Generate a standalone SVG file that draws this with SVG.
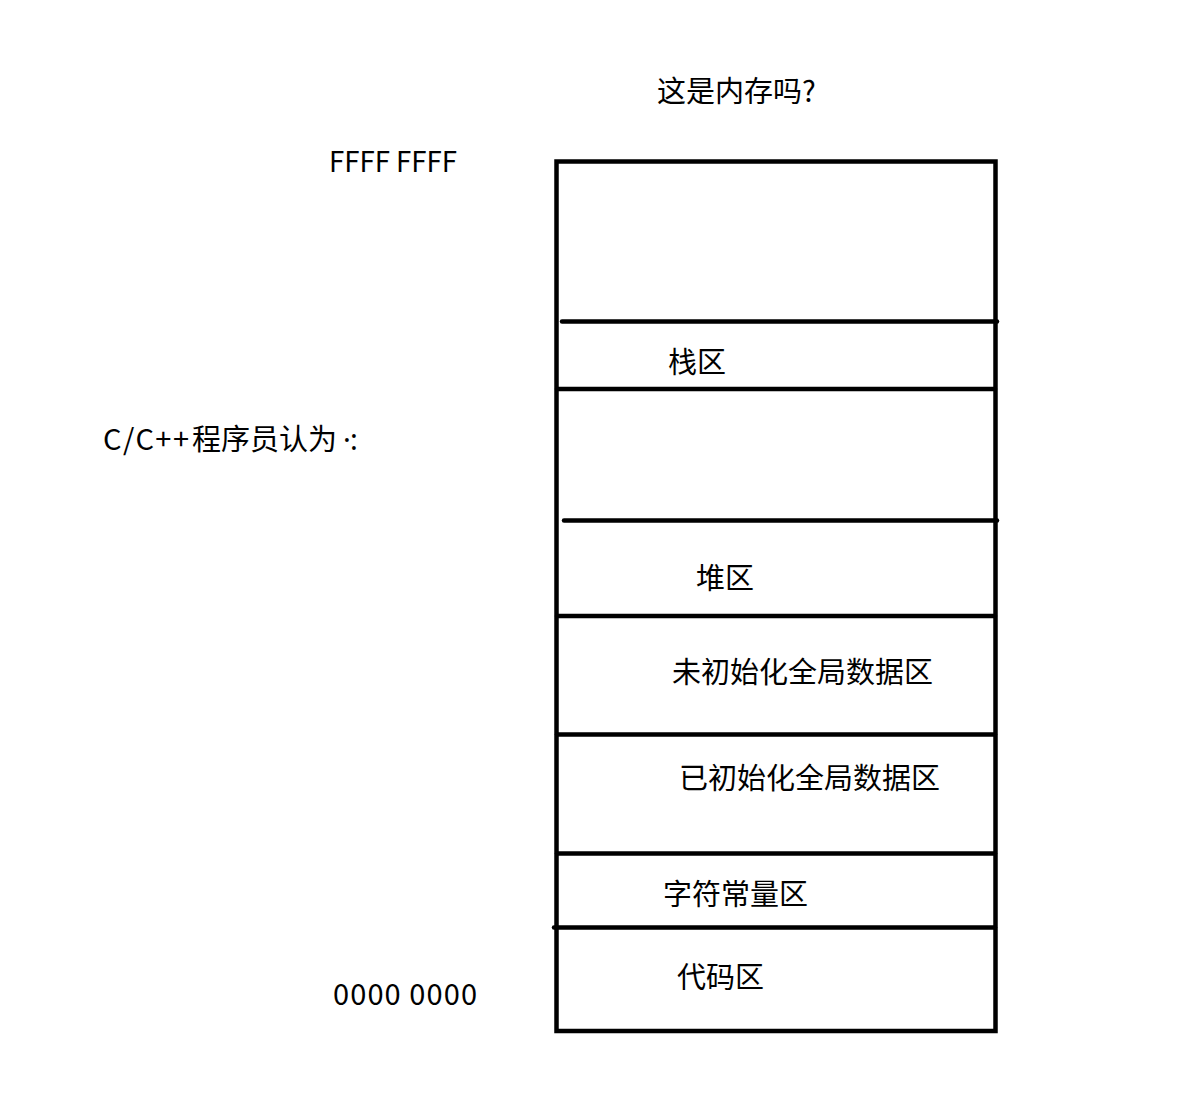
<svg xmlns="http://www.w3.org/2000/svg" width="1193" height="1099" viewBox="0 0 1193 1099">
<style>
.t{font-family:"Noto Sans CJK SC","Noto Sans",sans-serif;font-size:29px;fill:#000}
.lat{font-family:"Noto Sans","Noto Sans CJK SC",sans-serif}
.l{stroke:#000;stroke-width:4.5;fill:none;stroke-linecap:round}
</style>
<rect width="1193" height="1099" fill="#fff"/>
<g id="title"><text class="t" x="657" y="102">这是内存吗?</text></g>
<g id="top-addr"><text class="t" x="329" y="172" textLength="128" lengthAdjust="spacingAndGlyphs">FFFF FFFF</text></g>
<g id="bottom-addr"><text class="t" x="333" y="1005" textLength="144" lengthAdjust="spacing">0000 0000</text></g>
<g id="caption"><text class="t" y="450"><tspan x="103" textLength="86" lengthAdjust="spacing">C/C++</tspan><tspan x="192">程序员认为</tspan><tspan class="lat" x="343" dx="0">·</tspan><tspan class="lat" x="350">:</tspan></text></g>
<g id="memory">
<rect x="556.5" y="161.5" width="439" height="869.5" fill="none" stroke="#000" stroke-width="4.5"/>
</g>
<g id="dividers">
<line class="l" x1="562" y1="321.5" x2="997" y2="321.5"/>
<line class="l" x1="557" y1="389" x2="995" y2="389"/>
<line class="l" x1="564" y1="520.5" x2="997" y2="520.5"/>
<line class="l" x1="557" y1="616" x2="995" y2="616"/>
<line class="l" x1="557" y1="734.5" x2="995" y2="734.5"/>
<line class="l" x1="557" y1="853.5" x2="995" y2="853.5"/>
<line class="l" x1="554" y1="927.5" x2="995" y2="927.5"/>
</g>
<g id="stack"><text class="t" x="668" y="373">栈区</text></g>
<g id="heap"><text class="t" x="696" y="589">堆区</text></g>
<g id="bss"><text class="t" x="672" y="683">未初始化全局数据区</text></g>
<g id="data"><text class="t" x="679" y="789">已初始化全局数据区</text></g>
<g id="rodata"><text class="t" x="663" y="905">字符常量区</text></g>
<g id="code"><text class="t" x="677" y="988">代码区</text></g>
</svg>
